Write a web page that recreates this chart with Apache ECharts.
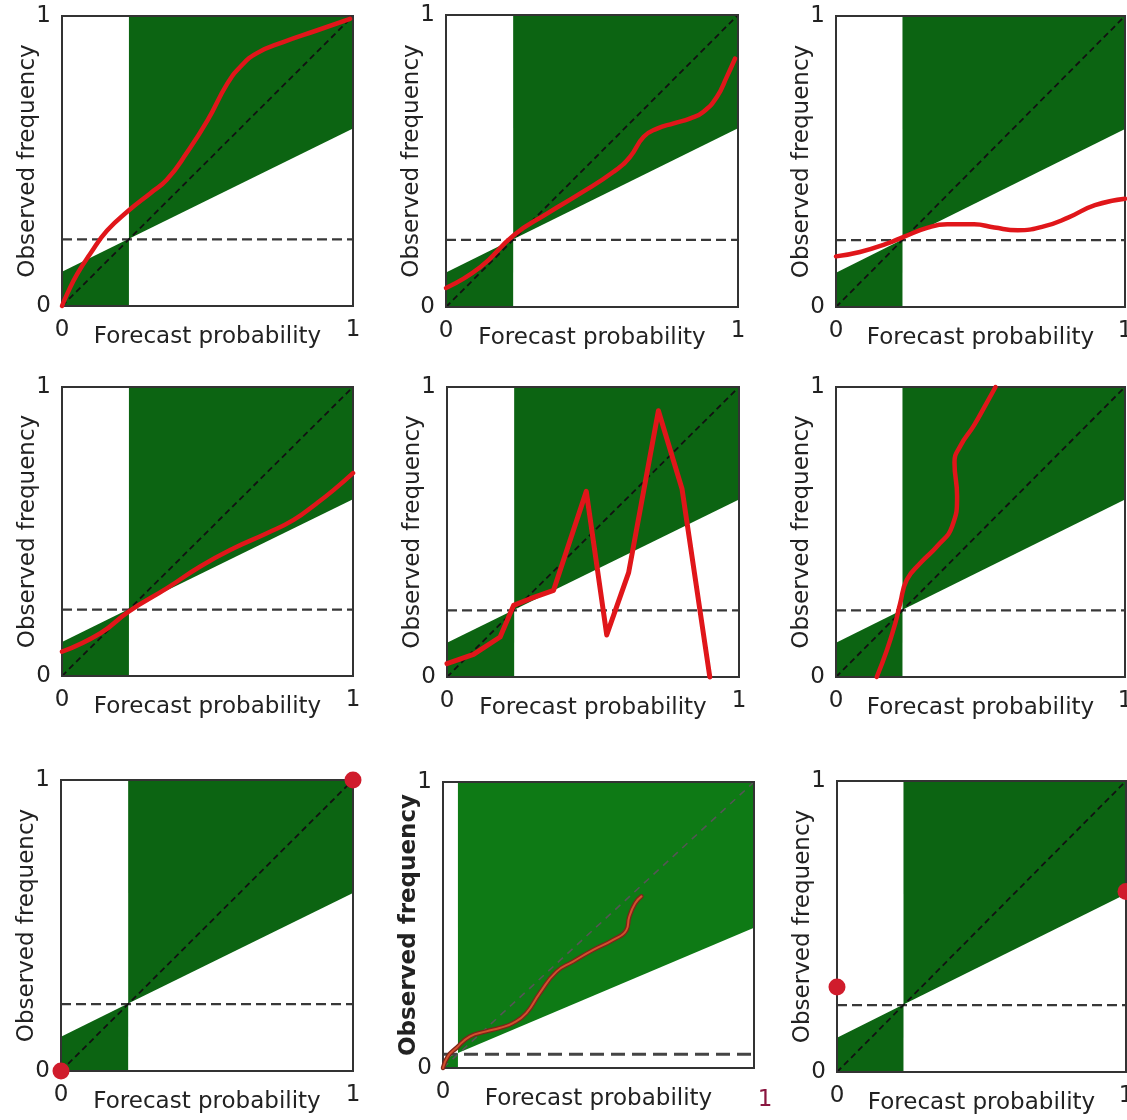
<!DOCTYPE html>
<html>
<head>
<meta charset="utf-8">
<script src="https://cdn.jsdelivr.net/npm/echarts@6/dist/echarts.min.js"></script>
<style>
html,body{margin:0;padding:0;background:#fff;}
#chart{width:1127px;height:1120px;}
</style>
</head>
<body>
<div id="chart"></div>
<script>
// ---------- DATA ----------
const xName = 'Forecast probability';
const yName = 'Observed frequency';
const xTicks = [0, 1];
const yTicks = [0, 1];
// climatological frequency per panel (vertical + horizontal reference)
const clim = [0.23, 0.23, 0.23, 0.23, 0.23, 0.23, 0.23, 0.048, 0.23];
// no-skill line value at forecast 0 and at forecast 1
const noSkillAt0 = [0.118, 0.118, 0.118, 0.118, 0.118, 0.118, 0.118, 0.03, 0.118];
const noSkillAt1 = [0.612, 0.612, 0.612, 0.612, 0.612, 0.612, 0.612, 0.49, 0.612];

const curve1 = [[0,0],[0.017,0.04],[0.052,0.11],[0.097,0.18],[0.155,0.26],[0.23,0.33],[0.305,0.39],[0.36,0.435],[0.43,0.53],[0.50,0.64],[0.567,0.765],[0.613,0.825],[0.67,0.872],[0.76,0.91],[0.875,0.95],[0.99,0.99]];
const curve2 = [[0,0.065],[0.118,0.137],[0.232,0.246],[0.346,0.32],[0.46,0.389],[0.574,0.463],[0.63,0.514],[0.677,0.583],[0.723,0.611],[0.78,0.629],[0.837,0.646],[0.882,0.669],[0.928,0.72],[0.962,0.789],[0.99,0.851]];
const curve3 = [[0,0.174],[0.083,0.189],[0.176,0.218],[0.234,0.241],[0.315,0.272],[0.385,0.284],[0.478,0.284],[0.548,0.273],[0.629,0.264],[0.722,0.278],[0.803,0.307],[0.896,0.35],[1.0,0.372]];
const curve4 = [[0,0.084],[0.132,0.148],[0.229,0.223],[0.361,0.304],[0.475,0.379],[0.59,0.442],[0.704,0.494],[0.796,0.54],[0.876,0.598],[0.934,0.644],[1.0,0.702]];
const curve5 = [[0,0.046],[0.091,0.078],[0.182,0.138],[0.228,0.247],[0.285,0.27],[0.365,0.299],[0.477,0.64],[0.547,0.145],[0.622,0.36],[0.724,0.918],[0.805,0.648],[0.9,0]];
const curve6 = [[0.141,0],[0.176,0.092],[0.205,0.185],[0.222,0.254],[0.245,0.335],[0.292,0.393],[0.35,0.451],[0.402,0.52],[0.419,0.624],[0.41,0.74],[0.431,0.798],[0.477,0.867],[0.523,0.948],[0.552,1.0]];
const dots7 = [[0,0],[1,1]];
const curve8 = [[0,0],[0.016,0.041],[0.043,0.07],[0.086,0.11],[0.139,0.128],[0.182,0.14],[0.225,0.157],[0.268,0.192],[0.311,0.262],[0.365,0.337],[0.418,0.372],[0.483,0.413],[0.547,0.448],[0.59,0.483],[0.599,0.529],[0.618,0.576],[0.638,0.6]];
const dots9 = [[0,0.292],[1,0.62]];

// ---------- LAYOUT / STYLE ----------
const layout = [
  [62,16,291,290],[446,15,292,292],[836,16,289,291],
  [62,387,291,289],[447,387,292,290],[836,387,289,290],
  [61,780,292,291],[443,782,311,286],[837,781,289,291]
];
const panels = [
  {data: curve1, kind: 'smooth'},
  {data: curve2, kind: 'smooth'},
  {data: curve3, kind: 'smooth'},
  {data: curve4, kind: 'smooth'},
  {data: curve5, kind: 'poly'},
  {data: curve6, kind: 'smooth'},
  {data: dots7, kind: 'dots'},
  {data: curve8, kind: 'thin'},
  {data: dots9, kind: 'dots'}
];
const FONT = 'DejaVu Sans';
const TXT = '#222';

const grid = [], xAxis = [], yAxis = [], series = [];
panels.forEach((p, i) => {
  const [l, t, w, h] = layout[i];
  const special = i === 7;
  grid.push({left: l, top: t, width: w, height: h, show: true, borderColor: '#333', borderWidth: 2,
    backgroundColor: 'rgba(0,0,0,0)', z: 3, containLabel: false, outerBoundsMode: 'none'});
  xAxis.push({
    gridIndex: i, type: 'value', min: xTicks[0], max: xTicks[1], interval: 1,
    axisLine: {show: false}, axisTick: {show: false}, splitLine: {show: false},
    axisLabel: {fontSize: 23, fontFamily: FONT, color: TXT, margin: 13,
      formatter: v => (special && v === 1) ? '{r|1}' : String(v),
      rich: {r: {fontSize: 23, fontFamily: FONT, color: '#8a1640', padding: [8, 0, 0, 22]}}},
    name: xName, nameLocation: 'middle', nameGap: 20, nameMoveOverlap: false,
    nameTextStyle: {fontSize: 23, fontFamily: FONT, color: TXT}
  });
  yAxis.push({
    gridIndex: i, type: 'value', min: yTicks[0], max: yTicks[1], interval: 1,
    axisLine: {show: false}, axisTick: {show: false}, splitLine: {show: false},
    axisLabel: {fontSize: 23, fontFamily: FONT, color: TXT, margin: 11},
    name: yName, nameLocation: 'middle', nameGap: 22, nameRotate: 90, nameMoveOverlap: false,
    nameTextStyle: {fontSize: 23, fontFamily: FONT, color: TXT, fontWeight: special ? 'bold' : 'normal'}
  });
  const c = clim[i], n0 = noSkillAt0[i], n1 = noSkillAt1[i];
  const nc = n0 + (n1 - n0) * c;
  const green = special ? '#0e7a15' : '#0c6412';
  series.push({
    type: 'custom', xAxisIndex: i, yAxisIndex: i, z: 1, silent: true, clip: false,
    data: [[0, 0]],
    renderItem: (params, api) => {
      const left = [[0,0],[c,0],[c,nc],[0,n0]].map(q => api.coord(q));
      const right = [[c,nc],[1,n1],[1,1],[c,1]].map(q => api.coord(q));
      return {type: 'group', children: [
        {type: 'polygon', shape: {points: left}, style: {fill: green}},
        {type: 'polygon', shape: {points: right}, style: {fill: green}}
      ]};
    }
  });
  series.push({
    type: 'line', xAxisIndex: i, yAxisIndex: i, z: 2, silent: true, symbol: 'none',
    data: [[0, c], [1, c]],
    lineStyle: special ? {color: '#444', width: 3, type: [14, 7]} : {color: '#383838', width: 2.2, type: [10, 5]}
  });
  series.push({
    type: 'line', xAxisIndex: i, yAxisIndex: i, z: 2, silent: true, symbol: 'none',
    data: [[0, 0], [1, 1]],
    lineStyle: special ? {color: '#555', width: 1.6, type: [7, 6]} : {color: '#111', width: 1.8, type: [6, 4]}
  });
  if (p.kind === 'dots') {
    series.push({type: 'scatter', xAxisIndex: i, yAxisIndex: i, z: 5, clip: false, symbolSize: 17,
      itemStyle: {color: '#d01c2c', opacity: 1}, data: p.data});
  } else if (p.kind === 'thin') {
    series.push({type: 'line', xAxisIndex: i, yAxisIndex: i, z: 5, clip: false, symbol: 'none', smooth: true,
      lineStyle: {color: '#7d2418', width: 4.5, cap: 'round'}, data: p.data});
    series.push({type: 'line', xAxisIndex: i, yAxisIndex: i, z: 6, clip: false, symbol: 'none', smooth: true,
      lineStyle: {color: '#d2502e', width: 2, cap: 'round'}, data: p.data});
  } else {
    series.push({type: 'line', xAxisIndex: i, yAxisIndex: i, z: 5, clip: false, symbol: 'none',
      smooth: p.kind === 'smooth', lineStyle: {color: '#e0161a', width: p.kind === 'poly' ? 5 : 4.5, cap: 'round', join: 'round'}, data: p.data});
  }
});

const chart = echarts.init(document.getElementById('chart'), null, {renderer: 'canvas'});
chart.setOption({animation: false, backgroundColor: '#fff', grid, xAxis, yAxis, series});
</script>
</body>
</html>
